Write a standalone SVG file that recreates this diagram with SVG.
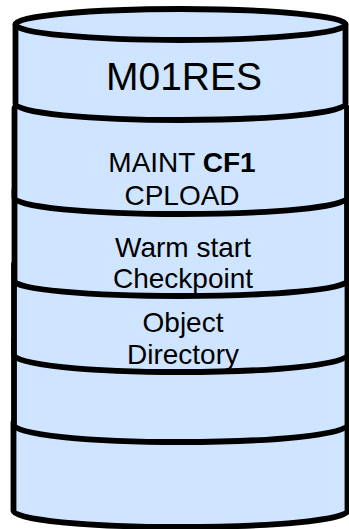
<svg xmlns="http://www.w3.org/2000/svg" width="349" height="529" viewBox="0 0 349 529">
<style>
.cyl{fill:#cfe5ff;stroke:#000;stroke-width:5.8;stroke-linejoin:round}
.t{font-family:"Liberation Sans",Arial,sans-serif;fill:#000;text-anchor:middle;font-size:28px}
.big{font-size:39px}
</style>
<g id="cyl6"><path class="cyl" d="M13.5,422 L13.5,511 A167,16 0 0 0 347.5,511 L347.5,422 A167,16 0 0 0 13.5,422 Z"/></g>
<g id="cyl5"><path class="cyl" d="M14,340 L14,425 A166.75,17 0 0 0 347.5,425 L347.5,340 A166.75,17 0 0 0 14,340 Z"/></g>
<g id="cyl4"><path class="cyl" d="M14,264 L14,355 A166.75,17 0 0 0 347.5,355 L347.5,264 A166.75,17 0 0 0 14,264 Z"/>
<text class="t" x="183" y="332">Object</text><text class="t" x="183" y="364">Directory</text></g>
<g id="cyl3"><path class="cyl" d="M14.5,190 L14.5,281 A166.25,15 0 0 0 347,281 L347,190 A166.25,15 0 0 0 14.5,190 Z"/>
<text class="t" x="183" y="257">Warm start</text><text class="t" x="183" y="288">Checkpoint</text></g>
<g id="cyl2"><path class="cyl" d="M14.5,108 L14.5,198 A166.25,16 0 0 0 347,198 L347,108 A166.25,16 0 0 0 14.5,108 Z"/>
<text class="t" x="182" y="172">MAINT <tspan font-weight="bold">CF1</tspan></text><text class="t" x="182" y="205">CPLOAD</text></g>
<g id="cyl1"><path class="cyl" d="M15.5,24.5 L15.5,104 A165,16 0 0 0 345.5,104 L345.5,24.5 Z"/>
<ellipse class="cyl" cx="180.5" cy="24.5" rx="165" ry="15.5"/>
<text class="t big" x="184" y="90">M01RES</text></g>
<g id="connectors"/>
</svg>
